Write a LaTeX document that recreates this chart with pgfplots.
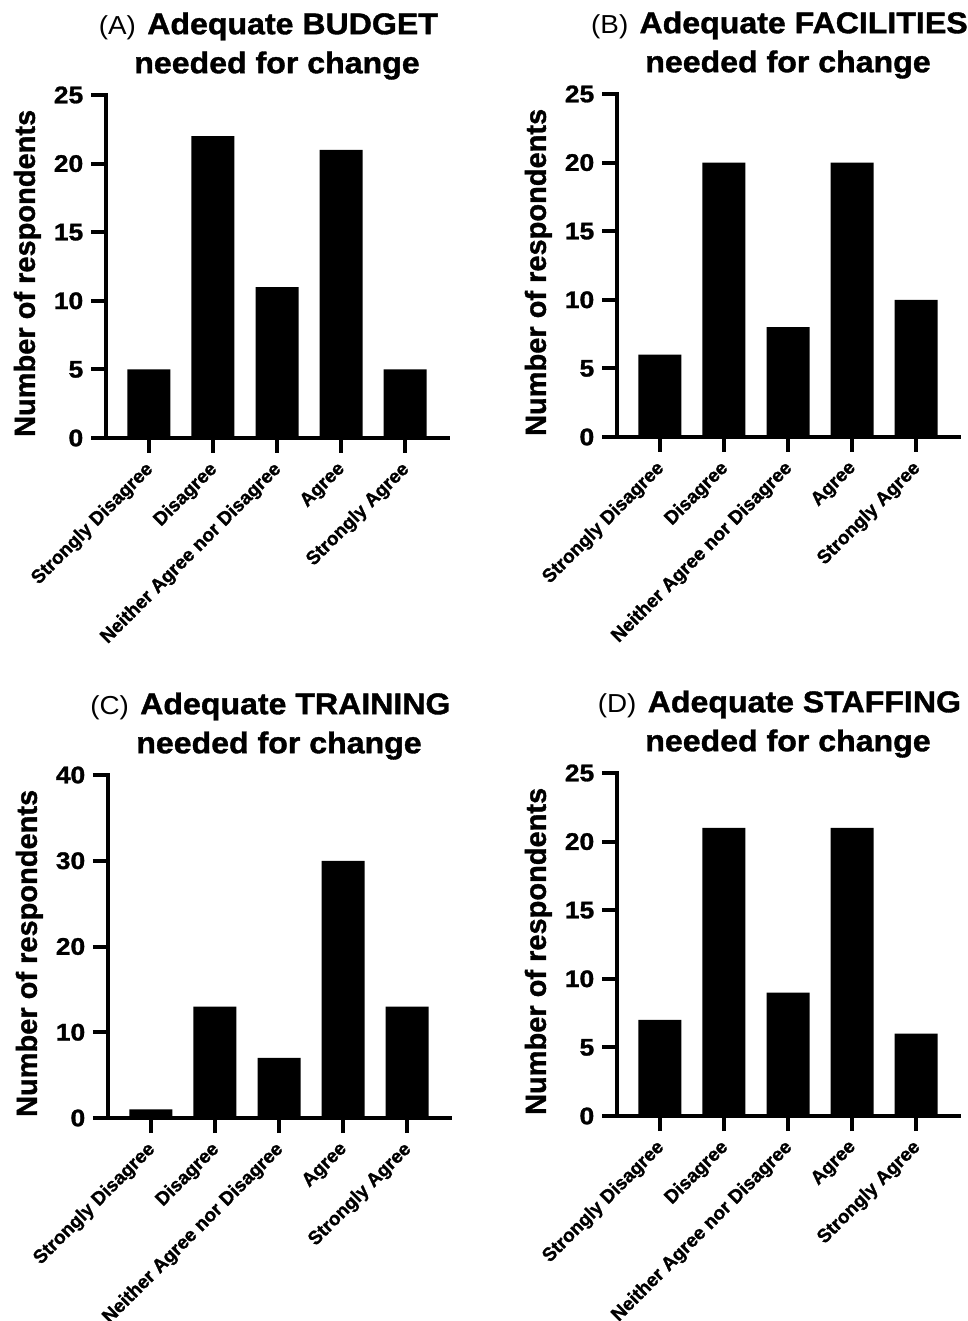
\documentclass[border=0pt]{standalone}
\usepackage{pgfplots}
\pgfplotsset{compat=1.18}
\usepackage{fontspec}
\setmainfont{Liberation Sans}[BoldFeatures={FakeBold=1.2}]
\begin{document}
\begin{tikzpicture}
\path[use as bounding box] (0,0) rectangle (484pt,660.5pt);
\pgfplotsset{
  likert/.style={
    scale only axis, width=171pt, height=171.5pt,
    anchor=south west,
    axis lines=left,
    axis line style={-, line width=2pt, line cap=rect},
    every tick/.style={black, line width=2pt},
    tick align=outside, major tick length=7.5pt,
    xmin=-0.67, xmax=4.67, ymin=0,
    xtick={0,1,2,3,4},
    xticklabels={Strongly Disagree, Disagree, Neither Agree nor Disagree, Agree, Strongly Agree},
    xticklabel style={font=\fontsize{9.5}{11}\selectfont\bfseries, xshift=-2.5pt, yshift=-2pt, rotate=45, anchor=north east, inner sep=1pt},
    /pgf/number format/assume math mode=true,
    yticklabel style={font=\fontsize{12}{14}\selectfont\bfseries, xscale=1.1},
    ylabel={Number of respondents},
    every axis y label/.style={at={(axis description cs:-0.23,0.48)}, rotate=90, anchor=center, font=\fontsize{14.5}{16}\selectfont\bfseries},
    ybar, bar width=21.5pt,
    title style={align=center, font=\fontsize{15}{19.5}\selectfont, at={(axis description cs:0.5,1)}, anchor=south, yshift=1.5pt, inner sep=0pt, xscale=1.07},
    clip=false,
  }
}
% Panel A
\begin{axis}[likert, at={(53pt,441.5pt)}, ymax=25, ytick={0,5,10,15,20,25},
  title={{\fontsize{13}{14}\selectfont (A)}\hspace{0.35em}\textbf{Adequate BUDGET}\hspace*{8pt}\\\textbf{needed for change}}]
\addplot[fill=black, draw=none] coordinates {(0,5) (1,22) (2,11) (3,21) (4,5)};
\end{axis}
% Panel B
\begin{axis}[likert, at={(308.5pt,442pt)}, ymax=25, ytick={0,5,10,15,20,25},
  title={{\fontsize{13}{14}\selectfont (B)}\hspace{0.35em}\textbf{Adequate FACILITIES}\hspace*{8pt}\\\textbf{needed for change}}]
\addplot[fill=black, draw=none] coordinates {(0,6) (1,20) (2,8) (3,20) (4,10)};
\end{axis}
% Panel C
\begin{axis}[likert, at={(54pt,101.5pt)}, ymax=40, ytick={0,10,20,30,40},
  title={{\fontsize{13}{14}\selectfont (C)}\hspace{0.35em}\textbf{Adequate TRAINING}\hspace*{8pt}\\\textbf{needed for change}}]
\addplot[fill=black, draw=none] coordinates {(0,1) (1,13) (2,7) (3,30) (4,13)};
\end{axis}
% Panel D
\begin{axis}[likert, at={(308.5pt,102.5pt)}, ymax=25, ytick={0,5,10,15,20,25},
  title={{\fontsize{13}{14}\selectfont (D)}\hspace{0.35em}\textbf{Adequate STAFFING}\hspace*{8pt}\\\textbf{needed for change}}]
\addplot[fill=black, draw=none] coordinates {(0,7) (1,21) (2,9) (3,21) (4,6)};
\end{axis}
\end{tikzpicture}
\end{document}
